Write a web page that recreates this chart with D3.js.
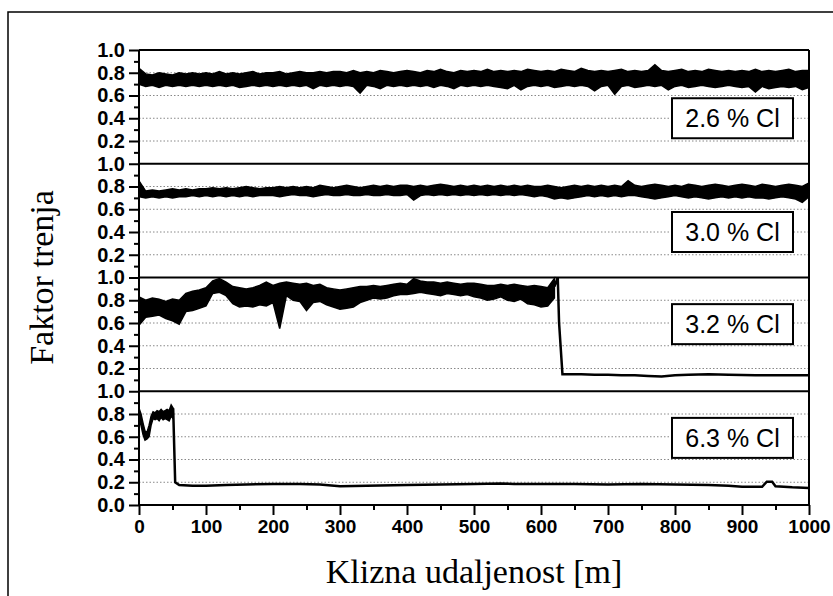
<!DOCTYPE html>
<html>
<head>
<meta charset="utf-8">
<script src="https://cdn.jsdelivr.net/npm/d3@7"></script>
<style>
body { margin: 0; background: #fff; }
text { font-family: "Liberation Sans", Arial, sans-serif; }
</style>
</head>
<body>
<svg id="chart" width="833" height="596"></svg>
<script>
// panel labels (top to bottom)
const panelLabels = ['2.6 % Cl', '3.0 % Cl', '3.2 % Cl', '6.3 % Cl'];
const xTicks = [0, 100, 200, 300, 400, 500, 600, 700, 800, 900, 1000];
const xMinor = [50, 150, 250, 350, 450, 550, 650, 750, 850, 950];
const yTicks = [0.2, 0.4, 0.6, 0.8, 1.0];
const yMinor = [0.1, 0.3, 0.5, 0.7, 0.9];

// sliding distance [m] for the noisy bands of the first two panels
const dist10 = [0,10,20,30,40,50,60,70,80,90,100,110,120,130,140,150,160,170,180,190,
    200,210,220,230,240,250,260,270,280,290,300,310,320,330,340,350,360,370,380,390,
    400,410,420,430,440,450,460,470,480,490,500,510,520,530,540,550,560,570,580,590,
    600,610,620,630,640,650,660,670,680,690,700,710,720,730,740,750,760,770,780,790,
    800,810,820,830,840,850,860,870,880,890,900,910,920,930,940,950,960,970,980,990,1000];

// 2.6 % Cl - upper / lower edge of the band
const cl26Hi = [0.84,
    .79,.78,.80,.79,.78,.80,.79,.80,.79,
    .80,.79,.81,.79,.80,.79,.80,.81,.79,.80,
    .80,.81,.79,.80,.81,.80,.80,.81,.80,.81,
    .81,.80,.82,.80,.81,.80,.82,.81,.80,.81,
    .82,.81,.80,.82,.81,.83,.81,.80,.82,.81,
    .82,.81,.83,.81,.82,.81,.82,.81,.83,.82,
    .81,.82,.81,.83,.82,.81,.84,.82,.81,.82,
    .81,.82,.83,.81,.82,.81,.82,.87,.82,.81,
    .82,.83,.81,.82,.81,.83,.82,.81,.82,.81,
    .82,.81,.83,.81,.82,.81,.82,.83,.81,.82,
    .82];
const cl26Lo = [0.70,
    .68,.69,.67,.69,.68,.69,.68,.69,.68,
    .69,.68,.69,.68,.69,.67,.68,.69,.68,.69,
    .68,.69,.68,.69,.68,.69,.66,.69,.68,.69,
    .68,.69,.68,.62,.69,.68,.66,.69,.68,.69,
    .68,.69,.68,.69,.67,.69,.68,.66,.69,.68,
    .69,.68,.69,.68,.67,.66,.69,.65,.68,.69,
    .68,.69,.67,.68,.69,.68,.69,.68,.64,.68,
    .69,.61,.68,.69,.67,.68,.69,.68,.69,.65,
    .68,.69,.67,.68,.69,.68,.67,.68,.69,.68,
    .67,.68,.63,.68,.66,.67,.68,.67,.68,.65,
    .67];

// 3.0 % Cl
const cl30Hi = [0.85,
    .76,.77,.76,.77,.78,.77,.78,.77,.78,
    .78,.79,.78,.79,.78,.79,.80,.79,.78,.79,
    .79,.80,.79,.80,.79,.80,.79,.81,.80,.79,
    .80,.81,.80,.79,.80,.81,.80,.81,.80,.81,
    .81,.80,.81,.80,.81,.82,.81,.80,.81,.80,
    .81,.80,.81,.80,.81,.80,.81,.80,.81,.80,
    .80,.81,.80,.79,.80,.81,.80,.81,.80,.81,
    .80,.81,.80,.85,.81,.80,.81,.82,.81,.80,
    .81,.80,.82,.81,.80,.81,.82,.81,.80,.81,
    .82,.81,.80,.82,.81,.80,.81,.82,.81,.80,
    .83];
const cl30Lo = [0.71,
    .70,.71,.70,.71,.70,.71,.71,.72,.71,
    .72,.71,.72,.71,.72,.71,.72,.71,.72,.72,
    .72,.71,.72,.73,.72,.72,.71,.72,.73,.72,
    .72,.73,.72,.72,.73,.72,.72,.73,.72,.72,
    .73,.68,.72,.73,.72,.73,.72,.73,.72,.73,
    .72,.73,.72,.73,.72,.73,.72,.73,.72,.71,
    .72,.71,.69,.70,.69,.70,.71,.72,.71,.72,
    .71,.72,.71,.72,.72,.71,.70,.69,.70,.71,
    .72,.71,.70,.71,.70,.69,.70,.71,.70,.71,
    .70,.71,.70,.70,.69,.70,.71,.70,.69,.66,
    .71];

// 3.2 % Cl - noisy part up to the drop, then a thin line
const cl32Dist = [0,10,20,30,40,50,60,70,80,90,100,110,120,130,140,150,160,170,180,190,
    200,210,220,230,240,250,260,270,280,290,300,310,320,330,340,350,360,370,380,390,
    400,410,420,430,440,450,460,470,480,490,500,510,520,530,540,550,560,570,580,590,
    600,610,620];
const cl32Hi = [0.83,
    .80,.82,.81,.79,.81,.80,.86,.88,.89,
    .91,.97,.99,.96,.92,.91,.90,.91,.93,.96,
    .93,.95,.96,.95,.94,.95,.93,.94,.91,.90,
    .89,.90,.91,.92,.92,.93,.92,.93,.94,.95,
    .94,.99,.97,.96,.96,.95,.96,.95,.94,.95,
    .95,.94,.93,.93,.94,.93,.94,.93,.92,.93,
    .92,.91,.99];
const cl32Lo = [0.58,
    .65,.66,.67,.64,.62,.59,.70,.71,.73,
    .75,.86,.87,.84,.77,.74,.75,.74,.76,.75,
    .78,.55,.84,.80,.79,.71,.78,.79,.76,.74,
    .72,.73,.74,.78,.80,.82,.81,.82,.84,.85,
    .85,.86,.87,.86,.85,.84,.86,.85,.84,.85,
    .83,.82,.80,.81,.83,.80,.79,.81,.77,.76,
    .74,.75,.82];
const cl32TailDist = [620, 625, 627, 632, 640, 660, 680, 700, 720, 740, 760, 780, 800, 820, 850, 880, 920, 960, 1000];
const cl32TailVal  = [.92, 1.0, .60, .15, .15, .15, .145, .145, .14, .14, .135, .13, .14, .145, .15, .145, .14, .14, .14];

// 6.3 % Cl
const cl63Dist = [0,3,6,9,12,15,18,21,24,27,30,33,36,39,42,45,48,51];
const cl63Hi = [.85,.80,.72,.65,.64,.70,.78,.82,.81,.83,.82,.84,.82,.83,.84,.83,.88,.85];
const cl63Lo = [.75,.70,.62,.57,.58,.60,.70,.76,.75,.76,.74,.77,.75,.76,.75,.74,.78,.76];
const cl63TailDist = [51, 54, 60, 80, 100, 130, 160, 200, 240, 270, 300, 340, 400, 450, 500, 540, 560, 600, 650, 700, 750, 800, 850, 880, 900, 930, 937, 945, 950, 975, 1000];
const cl63TailVal  = [.85, .20, .175, .17, .17, .175, .18, .185, .185, .18, .165, .17, .175, .18, .185, .19, .185, .185, .185, .18, .185, .18, .175, .17, .16, .16, .205, .205, .165, .155, .15];

const panels = [
    {label: panelLabels[0], dist: dist10, hi: cl26Hi, lo: cl26Lo, boxAt: 0.4},
    {label: panelLabels[1], dist: dist10, hi: cl30Hi, lo: cl30Lo, boxAt: 0.4},
    {label: panelLabels[2], dist: cl32Dist, hi: cl32Hi, lo: cl32Lo, tailX: cl32TailDist, tailY: cl32TailVal, boxAt: 0.59},
    {label: panelLabels[3], dist: cl63Dist, hi: cl63Hi, lo: cl63Lo, tailX: cl63TailDist, tailY: cl63TailVal, boxAt: 0.59}
];

const svg = d3.select('#chart');
const plotLeft = 139, plotRight = 809, plotTop = 50, plotBottom = 505;
const ph = (plotBottom - plotTop) / panels.length;

const x = d3.scaleLinear().domain([0, 1000]).range([plotLeft, plotRight]);

// outer frame of the figure
svg.append('rect')
    .attr('x', 8).attr('y', 12)
    .attr('width', 900).attr('height', 700)
    .attr('fill', 'none').attr('stroke', '#000').attr('stroke-width', 1.5);

panels.forEach(function (p, i) {
    const y0 = plotTop + i * ph;
    const y = d3.scaleLinear().domain([0, 1]).range([y0 + ph, y0]);
    const g = svg.append('g');

    // dotted grid
    g.selectAll('line.grid')
        .data([0.2, 0.4, 0.6, 0.8])
        .enter().append('line')
        .attr('x1', plotLeft).attr('x2', plotRight)
        .attr('y1', d => y(d)).attr('y2', d => y(d))
        .attr('stroke', '#888').attr('stroke-width', 1)
        .attr('stroke-dasharray', '1.5,2');

    // noisy band
    const band = d3.area()
        .x((d, k) => x(p.dist[k]))
        .y0((d, k) => y(p.lo[k]))
        .y1((d, k) => y(p.hi[k]));
    g.append('path')
        .datum(p.hi)
        .attr('d', band)
        .attr('fill', '#000')
        .attr('stroke', '#000')
        .attr('stroke-width', 1.5)
        .attr('stroke-linejoin', 'miter');

    if (p.tailX) {
        const line = d3.line()
            .x((d, k) => x(p.tailX[k]))
            .y((d, k) => y(p.tailY[k]));
        g.append('path')
            .datum(p.tailY)
            .attr('d', line)
            .attr('fill', 'none')
            .attr('stroke', '#000')
            .attr('stroke-width', 2.5);
    }

    // y axis
    const ticks = i === panels.length - 1 ? [0].concat(yTicks) : yTicks;
    g.append('g')
        .attr('transform', 'translate(' + plotLeft + ',0)')
        .call(d3.axisLeft(y).tickValues(ticks).tickSize(10).tickPadding(4).tickFormat(d3.format('.1f')))
        .call(a => a.select('.domain').remove())
        .call(a => a.selectAll('line').attr('stroke-width', 2))
        .call(a => a.selectAll('text')
            .style('font-size', '20px').style('font-weight', 'bold')
            .attr('fill', '#000'));
    g.append('g')
        .attr('transform', 'translate(' + plotLeft + ',0)')
        .call(d3.axisLeft(y).tickValues(yMinor).tickSize(5).tickFormat(''))
        .call(a => a.select('.domain').remove())
        .call(a => a.selectAll('line').attr('stroke-width', 2));

    // panel top line
    g.append('line')
        .attr('x1', plotLeft).attr('x2', plotRight)
        .attr('y1', y(1)).attr('y2', y(1))
        .attr('stroke', '#000').attr('stroke-width', 2);

    // label box
    const bw = 121, bh = 40, bx = 672;
    const by = y(p.boxAt) - bh / 2;
    g.append('rect')
        .attr('x', bx).attr('y', by)
        .attr('width', bw).attr('height', bh)
        .attr('fill', '#fff').attr('stroke', '#000').attr('stroke-width', 2);
    g.append('text')
        .attr('x', bx + bw / 2).attr('y', by + bh / 2)
        .attr('dy', '0.36em')
        .attr('text-anchor', 'middle')
        .style('font-size', '25px')
        .text(p.label);
});

// axis frame lines
svg.append('line')
    .attr('x1', plotLeft).attr('x2', plotLeft).attr('y1', plotTop).attr('y2', plotBottom)
    .attr('stroke', '#000').attr('stroke-width', 2);
svg.append('line')
    .attr('x1', plotRight).attr('x2', plotRight).attr('y1', plotTop).attr('y2', plotBottom)
    .attr('stroke', '#000').attr('stroke-width', 2);
svg.append('line')
    .attr('x1', plotLeft).attr('x2', plotRight).attr('y1', plotBottom).attr('y2', plotBottom)
    .attr('stroke', '#000').attr('stroke-width', 2);

// x axis
svg.append('g')
    .attr('transform', 'translate(0,' + plotBottom + ')')
    .call(d3.axisBottom(x).tickValues(xTicks).tickSize(10).tickPadding(5).tickFormat(d3.format('d')))
    .call(a => a.select('.domain').remove())
    .call(a => a.selectAll('line').attr('stroke-width', 2))
    .call(a => a.selectAll('text')
        .style('font-size', '19px').style('font-weight', 'bold')
        .attr('fill', '#000'));
svg.append('g')
    .attr('transform', 'translate(0,' + plotBottom + ')')
    .call(d3.axisBottom(x).tickValues(xMinor).tickSize(5).tickFormat(''))
    .call(a => a.select('.domain').remove())
    .call(a => a.selectAll('line').attr('stroke-width', 2));

// axis titles
svg.append('text')
    .attr('x', (plotLeft + plotRight) / 2).attr('y', 583)
    .attr('text-anchor', 'middle')
    .style('font-family', '"Liberation Serif", "Times New Roman", serif')
    .style('font-size', '34px')
    .text('Klizna udaljenost [m]');

svg.append('text')
    .attr('transform', 'translate(53,' + ((plotTop + plotBottom) / 2) + ')rotate(-90)')
    .attr('text-anchor', 'middle')
    .style('font-family', '"Liberation Serif", "Times New Roman", serif')
    .style('font-size', '34px')
    .text('Faktor trenja');
</script>
</body>
</html>
